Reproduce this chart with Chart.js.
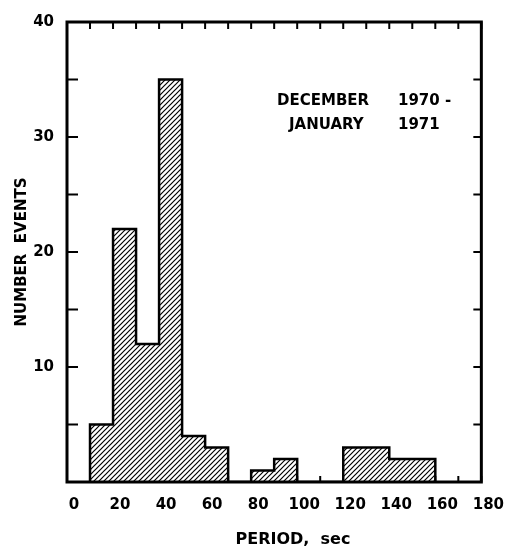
<!DOCTYPE html>
<html>
<head>
<meta charset="utf-8">
<script src="https://cdn.jsdelivr.net/npm/chart.js@4.4.1/dist/chart.umd.min.js"></script>
<style>
    html, body { margin: 0; padding: 0; background: #fff; }
</style>
</head>
<body>
<canvas id="period-hist" width="511" height="550"></canvas>
<script>
    // Data

    var binStart = [10, 20, 30, 40, 50, 60, 70, 80, 90, 100, 110, 120, 130, 140, 150];
    var binWidth = 10;
    var counts = [5, 22, 12, 35, 4, 3, 0, 1, 2, 0, 0, 3, 3, 2, 2];
    var xLabelStep = 20;
    var yLabelStep = 10;
    var noteLines = [
        ['DECEMBER', '1970 -'],
        ['JANUARY', '1971']
    ];

    var FONT = '"DejaVu Sans", "Liberation Sans", sans-serif';


    // Hatch fill

    function hatch() {
        var s = 5;
        var c = document.createElement('canvas');
        c.width = s; c.height = s;
        var g = c.getContext('2d');
        g.fillStyle = '#fff';
        g.fillRect(0, 0, s, s);
        g.strokeStyle = '#000';
        g.lineWidth = 1.2;
        g.beginPath();
        g.moveTo(-1, s + 1); g.lineTo(s + 1, -1);
        g.moveTo(-1, 1); g.lineTo(1, -1);
        g.moveTo(s - 1, s + 1); g.lineTo(s + 1, s - 1);
        g.stroke();
        return g.createPattern(c, 'repeat');
    }

    var bars = binStart.map(function (s, i) {
        return { x: s + binWidth / 2, y: counts[i] };
    });

    // outline of the histogram, one point per bin edge
    var outline = [{ x: binStart[0], y: 0 }].concat(binStart.map(function (s, i) {
        return { x: s, y: counts[i] };
    }));
    outline.push({ x: binStart[binStart.length - 1] + binWidth, y: 0 });


    // Frame, inward ticks and texts

    var framePlugin = {
        id: 'frame',
        beforeDatasetsDraw: function (chart) {
            var ctx = chart.ctx, a = chart.chartArea;
            var xs = chart.scales.x, ys = chart.scales.y;
            ctx.save();
            ctx.strokeStyle = '#000';
            ctx.lineWidth = 2;
            ctx.beginPath();
            xs.ticks.forEach(function (t) {
                var px = xs.getPixelForValue(t.value);
                ctx.moveTo(px, a.bottom); ctx.lineTo(px, a.bottom - 6);
                ctx.moveTo(px, a.top); ctx.lineTo(px, a.top + 7);
            });
            ys.ticks.forEach(function (t) {
                var py = ys.getPixelForValue(t.value);
                ctx.moveTo(a.left, py); ctx.lineTo(a.left + 11, py);
                ctx.moveTo(a.right, py); ctx.lineTo(a.right - 8, py);
            });
            ctx.stroke();
            ctx.restore();
        },
        afterDraw: function (chart) {
            var ctx = chart.ctx, a = chart.chartArea;
            ctx.save();
            ctx.strokeStyle = '#000';
            ctx.lineWidth = 3;
            ctx.strokeRect(a.left, a.top, a.right - a.left, a.bottom - a.top);

            ctx.fillStyle = '#000';
            ctx.font = 'bold 15px ' + FONT;
            ctx.textBaseline = 'middle';
            ctx.textAlign = 'left';
            ctx.fillText(noteLines[0][0], 277, 101);
            ctx.fillText(noteLines[0][1], 398, 101);
            ctx.fillText(noteLines[1][0], 289, 125);
            ctx.fillText(noteLines[1][1], 398, 125);

            ctx.font = 'bold 16px ' + FONT;
            ctx.textAlign = 'center';
            ctx.fillText('PERIOD,  sec', 293, 540);
            ctx.restore();
        }
    };


    // Chart

    var periodChart = new Chart(document.getElementById('period-hist'), {
        type: 'bar',
        data: {
            datasets: [{
                type: 'line',
                data: outline,
                stepped: 'before',
                borderColor: '#000',
                borderWidth: 2.5,
                pointRadius: 0,
                fill: false,
                order: 0
            }, {
                data: bars,
                backgroundColor: hatch(),
                borderWidth: 0,
                barPercentage: 1,
                categoryPercentage: 1,
                order: 1
            }]
        },
        options: {
            responsive: false,
            animation: false,
            layout: { padding: { top: 12, right: 24, left: 0, bottom: 0 } },
            plugins: {
                legend: { display: false },
                tooltip: { enabled: false }
            },
            scales: {
                x: {
                    type: 'linear',
                    min: 0,
                    max: 180,
                    offset: false,
                    grid: { display: false, drawTicks: false, offset: false },
                    border: { display: false },
                    ticks: {
                        stepSize: 10,
                        autoSkip: false,
                        maxRotation: 0,
                        padding: 14,
                        labelOffset: 7,
                        color: '#000',
                        font: { family: FONT, size: 15, weight: 'bold' },
                        callback: function (v) { return v % xLabelStep === 0 ? v : ''; }
                    },
                    afterFit: function (scale) { scale.height = 68; }
                },
                y: {
                    min: 0,
                    max: 40,
                    grid: { display: false, drawTicks: false },
                    border: { display: false },
                    ticks: {
                        stepSize: 5,
                        padding: 13,
                        color: '#000',
                        font: { family: FONT, size: 15, weight: 'bold' },
                        callback: function (v) { return (v > 0 && v % yLabelStep === 0) ? v : ''; }
                    },
                    title: {
                        display: true,
                        text: 'NUMBER  EVENTS',
                        color: '#000',
                        font: { family: FONT, size: 15, weight: 'bold' },
                        padding: { top: 13, bottom: 0 }
                    },
                    afterFit: function (scale) { scale.width = 67; }
                }
            }
        },
        plugins: [framePlugin]
    });
</script>
</body>
</html>
